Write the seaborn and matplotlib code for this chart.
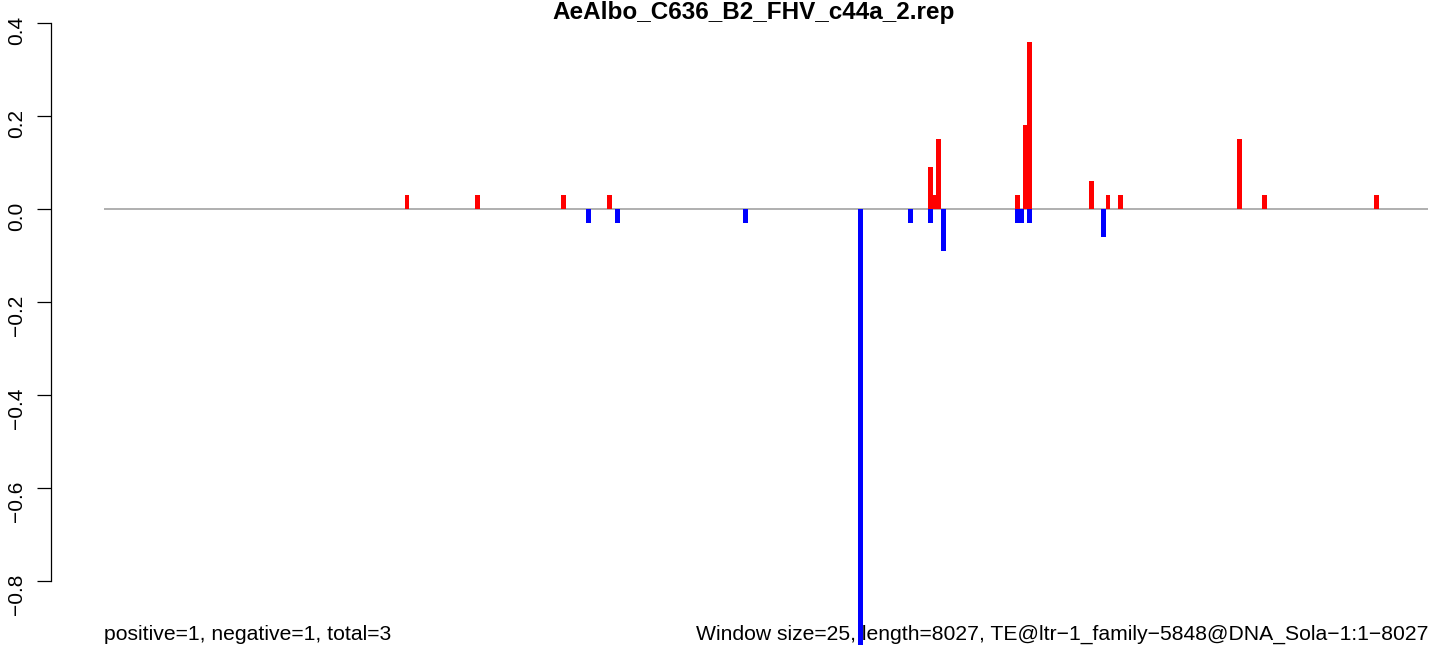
import matplotlib
matplotlib.use("Agg")
import matplotlib.pyplot as plt
import seaborn as sns
import numpy as np

# ---- data ----
title = "AeAlbo_C636_B2_FHV_c44a_2.rep"
seq_length = 8027
pos_x = [1837, 2262, 2787, 3062, 5012, 5037, 5062, 5537, 5587, 5612,
         5987, 6087, 6162, 6887, 7037, 7712]
pos_y = [0.03, 0.03, 0.03, 0.03, 0.09, 0.03, 0.15, 0.03, 0.18, 0.36,
         0.06, 0.03, 0.03, 0.15, 0.03, 0.03]
neg_x = [2937, 3112, 3887, 4587, 4887, 5012, 5087, 5537, 5562, 5612, 6062]
neg_y = [-0.03, -0.03, -0.03, -0.95, -0.03, -0.03, -0.09, -0.03, -0.03,
         -0.03, -0.06]
yticks = [-0.8, -0.6, -0.4, -0.2, 0.0, 0.2, 0.4]
left_note = "positive=1, negative=1, total=3"
right_note = ("Window size=25, length=8027, "
              "TE@ltr\u22121_family\u22125848@DNA_Sola\u22121:1\u22128027")

sns.set_theme(style="white")
plt.rcParams["font.family"] = ["Liberation Sans", "DejaVu Sans"]
for k in ["text.color", "axes.labelcolor", "xtick.color", "ytick.color"]:
    plt.rcParams[k] = "black"

W, H = 1429, 645
fig = plt.figure(figsize=(W / 100, H / 100), dpi=100)
ax_left, ax_right = 104, 1428
ax_top, ax_bot = 18, 645
ax = fig.add_axes([ax_left / W, (H - ax_bot) / H,
                   (ax_right - ax_left) / W, (ax_bot - ax_top) / H])

bar_w = 30
ax.bar(pos_x, pos_y, width=bar_w, color="#FF0000", linewidth=0)
ax.bar(neg_x, neg_y, width=bar_w, color="#0000FF", linewidth=0)
ax.axhline(0, color="#A9A9A9", linewidth=1.3, zorder=0.5)

ax.set_xlim(0, seq_length)
ax.set_ylim(-0.938, 0.411)
ax.set_xticks([])
ax.set_yticks(yticks)
ax.set_yticklabels([f"{v:.1f}".replace("-", "\u2212") for v in yticks])
ax.tick_params(axis="y", direction="out", length=10, width=0.9,
               color="black", pad=8, left=True, labelrotation=90,
               labelsize=15)
for lab in ax.get_yticklabels():
    lab.set_verticalalignment("center")
    lab.set_horizontalalignment("right")

for s in ["top", "right", "bottom"]:
    ax.spines[s].set_visible(False)
ax.spines["left"].set_position(("outward", 38))
ax.spines["left"].set_bounds(-0.8, 0.4)
ax.spines["left"].set_color("black")
ax.spines["left"].set_linewidth(0.9)
ax.grid(False)

fig.text(754 / W, 1 - 18.5 / H, title,
         ha="center", va="baseline", fontsize=17.5, fontweight="bold")
fig.text(ax_left / W, 1 - 640 / H, left_note, ha="left", va="baseline",
         fontsize=15.2)
fig.text(ax_right / W, 1 - 640 / H, right_note, ha="right", va="baseline",
         fontsize=15.2)

fig.savefig("out.png", dpi=100)
